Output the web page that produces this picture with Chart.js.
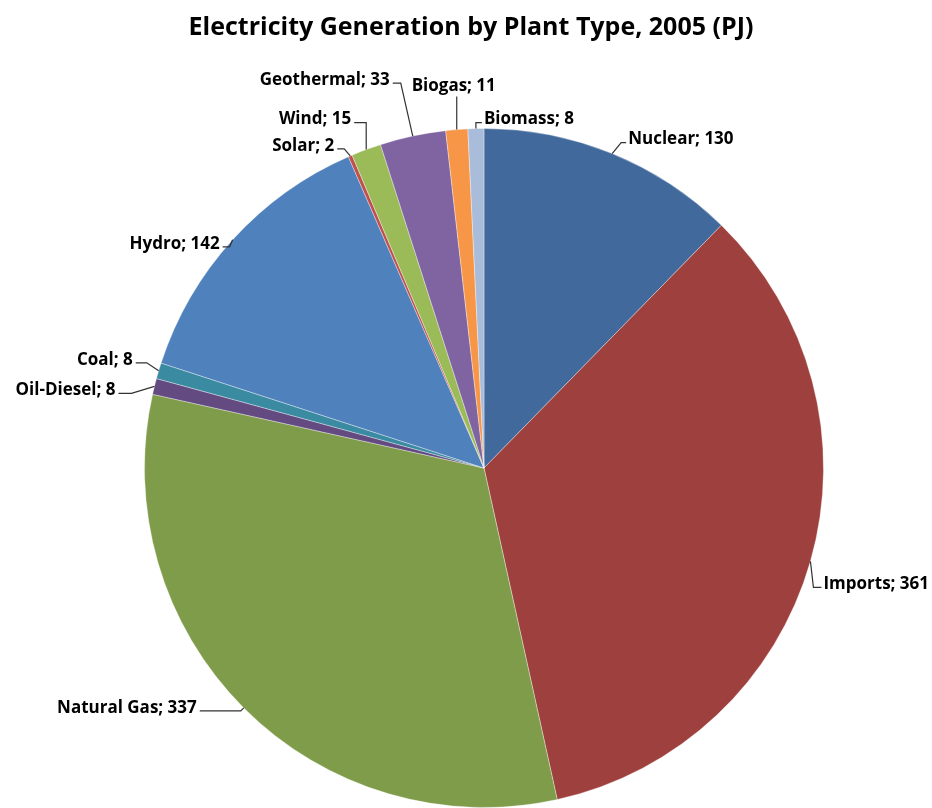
<!DOCTYPE html>
<html>
<head>
<meta charset="utf-8">
<script src="https://cdn.jsdelivr.net/npm/chart.js@4/dist/chart.umd.min.js"></script>
<style>
  html, body { margin: 0; padding: 0; background: #fff; }
  #wrap { width: 932px; height: 808px; }
</style>
</head>
<body>
<div id="wrap"><canvas id="chart" width="932" height="808"></canvas></div>
<script>
// ── Data ────
const TITLE = 'Electricity Generation by Plant Type, 2005 (PJ)';
const CATEGORIES = ['Nuclear', 'Imports', 'Natural Gas', 'Oil-Diesel', 'Coal', 'Hydro', 'Solar', 'Wind', 'Geothermal', 'Biogas', 'Biomass'];
const VALUES = [130, 361, 337, 8, 8, 142, 2, 15, 33, 11, 8];

const COLORS = ['#41699B', '#9E413E', '#7F9C4A', '#634B82', '#3A8BA2', '#4F81BD', '#C0504D', '#9BBB59', '#8064A2', '#F79646', '#A9BCDA'];

// label leader layout: elbow offset from slice edge, text side, gap
const LABEL_LAYOUT = [
  { dx: 9, dy: -11, side: 'r', gap: 7 },
  { dx: 3, dy: 26, side: 'r', gap: 10 },
  { dx: -3, dy: 3, side: 'l', gap: 44 },
  { dx: -23, dy: 7, side: 'l', gap: 16 },
  { dx: -12, dy: -8, side: 'l', gap: 14 },
  { dx: -3, dy: 7, side: 'l', gap: 10 },
  { dx: -6, dy: -7, side: 'l', gap: 10 },
  { dx: 0, dy: -27, side: 'l', gap: 15 },
  { dx: -12, dy: -53, side: 'l', gap: 11 },
  { dx: 0, dy: -33, side: 't', gap: 5 },
  { dx: 0, dy: -6, side: 'r', gap: 8 },
];

const LABEL_FONT = "bold 17px 'Open Sans', sans-serif";

// ── Labels + title ────
const pieLabels = {
  id: 'pieLabels',
  afterDatasetsDraw(chart) {
    const ctx = chart.ctx;
    const arcs = chart.getDatasetMeta(0).data;
    ctx.save();
    ctx.font = LABEL_FONT;
    ctx.strokeStyle = '#333';
    ctx.lineWidth = 1.2;
    ctx.fillStyle = '#000';
    arcs.forEach((arc, i) => {
      const { x, y, startAngle, endAngle, outerRadius } = arc.getProps(['x', 'y', 'startAngle', 'endAngle', 'outerRadius'], true);
      const a = (startAngle + endAngle) / 2;
      const px = x + Math.cos(a) * outerRadius;
      const py = y + Math.sin(a) * outerRadius;
      const L = LABEL_LAYOUT[i];
      const ex = px + L.dx, ey = py + L.dy;
      const text = `${CATEGORIES[i]}; ${VALUES[i]}`;
      ctx.beginPath();
      ctx.moveTo(px, py);
      ctx.lineTo(ex, ey);
      if (L.side === 'r') {
        ctx.lineTo(ex + L.gap - 2, ey);
        ctx.stroke();
        ctx.textAlign = 'left';
        ctx.textBaseline = 'middle';
        ctx.fillText(text, ex + L.gap, ey - 3);
      } else if (L.side === 'l') {
        ctx.lineTo(ex - L.gap + 3, ey);
        ctx.stroke();
        ctx.textAlign = 'right';
        ctx.textBaseline = 'middle';
        ctx.fillText(text, ex - L.gap, ey - 3);
      } else {
        ctx.stroke();
        ctx.textAlign = 'center';
        ctx.textBaseline = 'bottom';
        ctx.fillText(text, ex - 3, ey - L.gap + 3);
      }
    });
    ctx.restore();
  },
  afterDraw(chart) {
    const ctx = chart.ctx;
    ctx.save();
    ctx.font = "bold 25px 'Open Sans', sans-serif";
    ctx.fillStyle = '#000';
    ctx.textAlign = 'center';
    ctx.textBaseline = 'middle';
    ctx.fillText(TITLE, 471, 28);
    ctx.restore();
  }
};

new Chart(document.getElementById('chart'), {
  type: 'pie',
  data: {
    labels: CATEGORIES,
    datasets: [{
      data: VALUES,
      backgroundColor: COLORS,
      borderColor: 'rgba(255,255,255,0.35)',
      borderWidth: 1,
    }]
  },
  options: {
    responsive: false,
    animation: false,
    layout: { padding: { top: 128, left: 144, right: 108, bottom: 0 } },
    plugins: {
      legend: { display: false },
      tooltip: { enabled: false },
      title: { display: false }
    }
  },
  plugins: [pieLabels]
});
</script>
</body>
</html>
